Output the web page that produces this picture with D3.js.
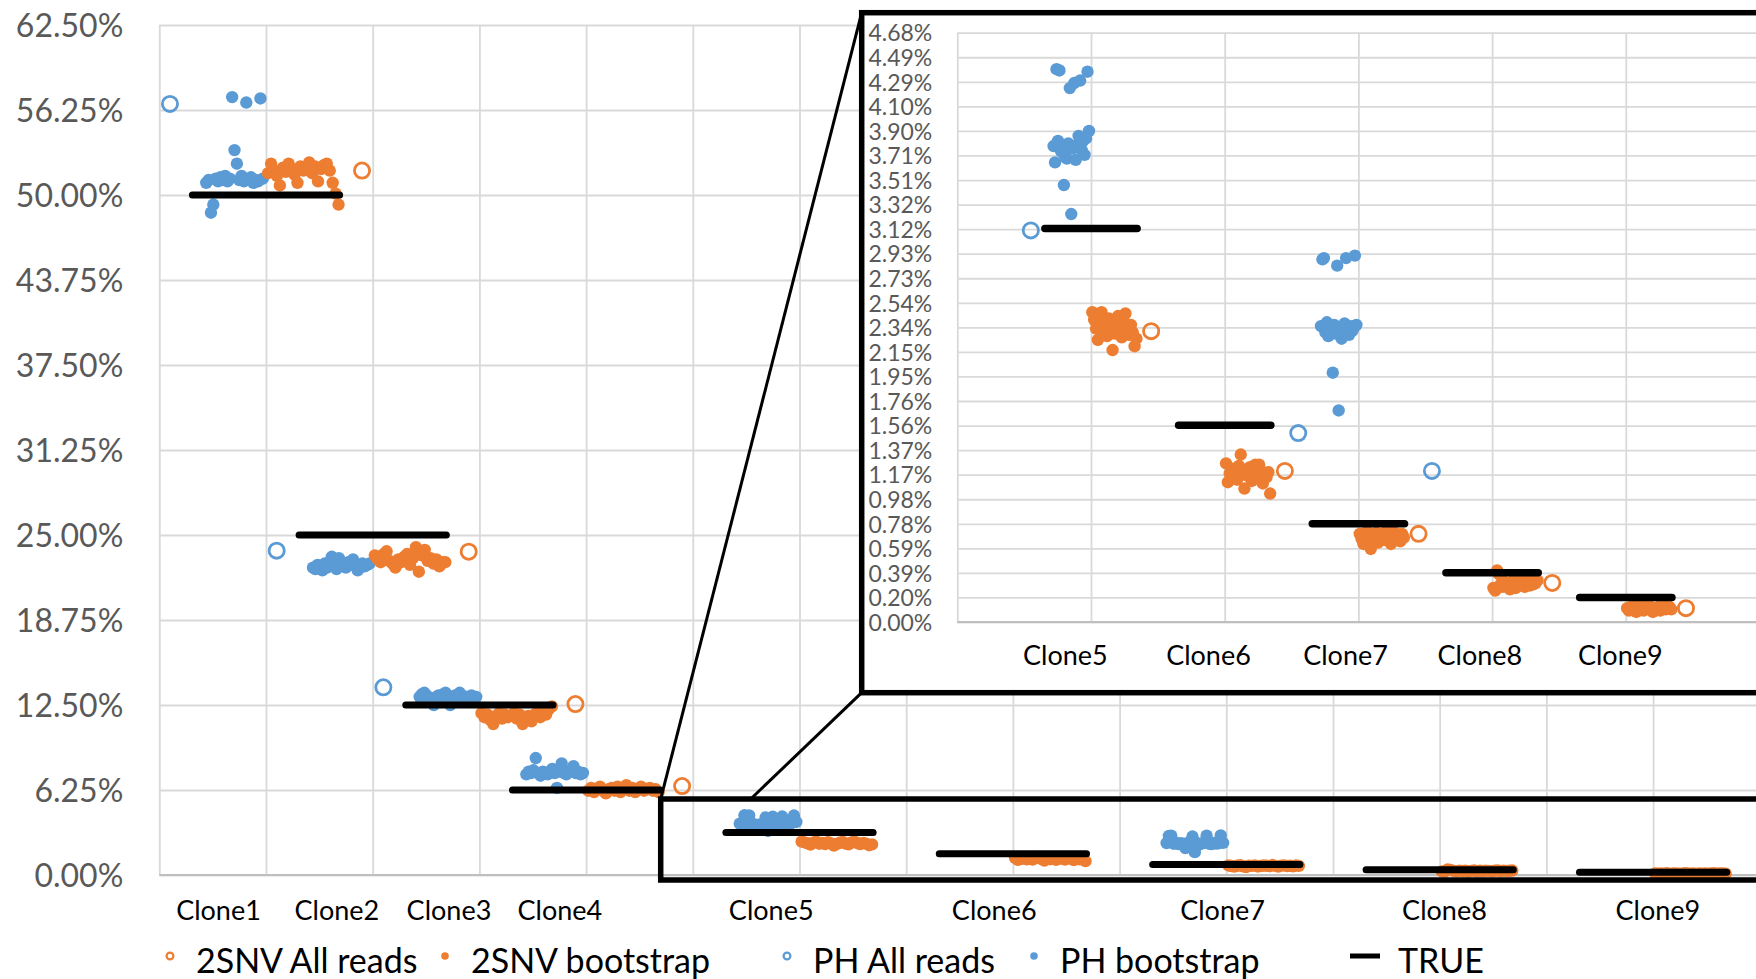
<!DOCTYPE html>
<html>
<head>
<meta charset="utf-8">
<script src="https://cdn.jsdelivr.net/npm/d3@7"></script>
<style>
  body { margin: 0; background: #fff; }
  text { font-family: Lato, "Open Sans", sans-serif; }
</style>
</head>
<body>
<div class="chart"></div>
<script>
// ---- data ----

var clones = ["Clone1", "Clone2", "Clone3", "Clone4", "Clone5", "Clone6", "Clone7", "Clone8", "Clone9"];
// position of each clone on the (numeric) x axis
var cloneX = [1, 2, 3, 4, 6, 8, 10, 12, 14];

// true clone frequencies
var trueFreq = [0.5, 0.25, 0.125, 0.0625, 0.03125, 0.015625, 0.0078125, 0.00390625, 0.001953125];

// estimates from all reads (%), null = not shown
var phAllReads = [56.7, 23.85, 13.8, null, 3.11, null, 1.50, 1.20, null];
var snvAllReads = [51.8, 23.77, 12.57, 6.54, 2.31, 1.20, 0.70, 0.31, 0.11];

// bootstrap estimates (%), listed left to right as they are spread out
var phBoot = [
  [50.9, 51.1, 48.7, 49.3, 51.2, 51.0, 51.3, 51.1, 51.4, 51.0, 51.2, 57.2, 53.3, 52.3, 51.1, 51.4, 51.0, 56.8, 51.2, 51.3, 50.9, 51.1, 51.0, 57.1, 51.2],
  [22.6, 22.5, 22.8, 22.7, 22.4, 22.9, 22.6, 23.0, 23.4, 22.8, 22.5, 23.3, 22.9, 22.7, 22.6, 23.0, 22.8, 23.2, 22.9, 22.4, 22.6, 22.9, 22.7, 22.8, 22.9],
  [13.1, 13.3, 13.4, 13.2, 13.0, 12.9, 12.5, 13.1, 13.2, 13.0, 13.3, 13.4, 13.1, 12.5, 13.0, 13.2, 13.1, 13.4, 13.2, 13.0, 13.1, 12.9, 13.2, 13.0, 13.1],
  [7.4, 7.6, 7.5, 7.7, 8.6, 7.5, 7.3, 7.6, 7.5, 7.4, 7.6, 7.8, 7.5, 6.4, 7.6, 8.2, 7.5, 7.4, 7.6, 7.7, 8.0, 7.5, 7.6, 7.4, 7.5],
  [3.78, 3.65, 4.39, 3.82, 4.38, 3.74, 3.73, 3.47, 3.69, 3.68, 3.80, 4.24, 3.24, 3.76, 4.28, 3.67, 3.79, 3.86, 4.30, 3.75, 3.82, 3.71, 3.84, 4.37, 3.90],
  [],
  [2.35, 2.88, 2.89, 2.30, 2.38, 2.27, 2.33, 2.31, 1.98, 2.36, 2.29, 2.83, 1.68, 2.34, 2.25, 2.32, 2.37, 2.89, 2.30, 2.28, 2.35, 2.31, 2.33, 2.91, 2.36],
  [],
  []
];
var snvBoot = [
  [51.6, 52.3, 51.8, 51.4, 50.7, 52.0, 51.7, 52.3, 51.9, 51.5, 50.9, 52.1, 51.8, 52.0, 52.4, 51.6, 52.1, 51.0, 51.9, 52.2, 52.3, 51.8, 50.9, 50.1, 49.3],
  [23.5, 23.2, 23.0, 23.6, 23.8, 23.1, 22.9, 22.6, 23.2, 23.0, 23.4, 23.6, 22.8, 23.3, 24.1, 22.3, 23.5, 23.9, 23.1, 23.3, 22.9, 23.2, 22.7, 23.0, 23.0],
  [11.9, 11.6, 11.8, 11.4, 11.1, 11.7, 11.9, 11.5, 11.8, 11.6, 11.7, 11.9, 11.5, 11.8, 11.1, 11.6, 11.7, 11.3, 11.8, 11.9, 11.6, 12.0, 11.8, 12.2, 12.4],
  [6.2, 6.4, 6.1, 6.3, 6.5, 6.2, 6.0, 6.3, 6.4, 6.2, 6.5, 6.1, 6.3, 6.6, 6.2, 6.4, 6.1, 6.3, 6.5, 6.2, 6.3, 6.4, 6.2, 6.3, 6.1],
  [2.46, 2.40, 2.33, 2.24, 2.38, 2.46, 2.30, 2.35, 2.27, 2.41, 2.32, 2.16, 2.29, 2.37, 2.43, 2.31, 2.26, 2.39, 2.45, 2.34, 2.28, 2.36, 2.30, 2.19, 2.25],
  [1.26, 1.11, 1.18, 1.22, 1.15, 1.20, 1.13, 1.24, 1.33, 1.17, 1.06, 1.21, 1.16, 1.23, 1.12, 1.19, 1.25, 1.14, 1.25, 1.20, 1.10, 1.18, 1.15, 1.19, 1.02],
  [0.70, 0.66, 0.62, 0.68, 0.72, 0.64, 0.58, 0.69, 0.67, 0.71, 0.63, 0.66, 0.70, 0.68, 0.65, 0.73, 0.67, 0.62, 0.69, 0.71, 0.66, 0.68, 0.64, 0.70, 0.67],
  [0.27, 0.25, 0.41, 0.38, 0.30, 0.28, 0.32, 0.29, 0.31, 0.26, 0.30, 0.33, 0.27, 0.31, 0.29, 0.32, 0.30, 0.28, 0.31, 0.33, 0.29, 0.32, 0.30, 0.31, 0.33],
  [0.11, 0.09, 0.12, 0.10, 0.13, 0.08, 0.11, 0.12, 0.10, 0.09, 0.13, 0.11, 0.10, 0.12, 0.08, 0.11, 0.10, 0.12, 0.09, 0.11, 0.13, 0.10, 0.11, 0.12, 0.10]
];

// axis ticks
var mainYTicks = [0, 0.0625, 0.125, 0.1875, 0.25, 0.3125, 0.375, 0.4375, 0.5, 0.5625, 0.625];
var mainLabelTicks = [0.55, 1.66, 2.71, 3.75, 5.73, 7.82, 9.96, 12.04, 14.04];
var insetLabelTicks = [5.61, 7.75, 9.8, 11.81, 13.91];
var insetYLabels = ["0.00%", "0.20%", "0.39%", "0.59%", "0.78%", "0.98%", "1.17%", "1.37%", "1.56%", "1.76%",
  "1.95%", "2.15%", "2.34%", "2.54%", "2.73%", "2.93%", "3.12%", "3.32%", "3.51%", "3.71%",
  "3.90%", "4.10%", "4.29%", "4.49%", "4.68%"];

var legendLabels = ["2SNV All reads", "2SNV bootstrap", "PH All reads", "PH bootstrap", "TRUE"];

// ---- setup ----

var svgWidth = 1756;
var svgHeight = 979;

var blue = "#5B9BD5";
var orange = "#ED7D31";
var gridColor = "#D9D9D9";
var axisColor = "#BFBFBF";

var svg = d3.select(".chart")
  .append("svg")
  .attr("width", svgWidth)
  .attr("height", svgHeight);

// spread a clone's bootstrap values over a small x band next to the clone
function bootPoints(sets, lo, hi, keep) {
  var pts = [];
  sets.forEach(function(vals, c) {
    if (!keep(c)) return;
    vals.forEach(function(v, i) {
      pts.push({ x: cloneX[c] + lo + (hi - lo) * i / (vals.length - 1), v: v / 100 });
    });
  });
  return pts;
}

function allReadPoints(vals, dx, keep) {
  var pts = [];
  vals.forEach(function(v, c) {
    if (v !== null && keep(c)) pts.push({ x: cloneX[c] + dx, v: v / 100 });
  });
  return pts;
}

// draws the gridlines and the clone markers into a group
function drawPanel(g, x, y, opts) {
  var w = x.range()[1];
  var h = y.range()[0];

  // vertical gridlines
  var vGrid = g.append("g")
    .attr("transform", `translate(0, ${h})`)
    .call(d3.axisBottom(x).tickValues(opts.xGrid).tickSize(-h).tickFormat(""));
  vGrid.select(".domain").remove();
  vGrid.selectAll("line").attr("stroke", gridColor).attr("stroke-width", 1.8);

  // y axis with horizontal gridlines
  var yAxis = g.append("g")
    .call(d3.axisLeft(y).tickValues(opts.yTicks).tickFormat(opts.yFormat)
      .tickSize(-w).tickSizeOuter(0).tickPadding(opts.yPadding));
  yAxis.select(".domain").remove();
  yAxis.selectAll("line").attr("stroke", gridColor).attr("stroke-width", 1.8);
  yAxis.selectAll("text")
    .attr("fill", "#595959")
    .attr("dy", "0.36em")
    .style("font-size", opts.yFont + "px");

  // bottom axis line
  g.append("line")
    .attr("x1", 0).attr("x2", w)
    .attr("y1", h).attr("y2", h)
    .attr("stroke", axisColor)
    .attr("stroke-width", 2);

  // clone names
  var xLabels = g.append("g")
    .attr("transform", `translate(0, ${h})`)
    .call(d3.axisBottom(x).tickValues(opts.labelTicks)
      .tickFormat(function(d, i) { return clones[i + opts.firstClone]; })
      .tickSize(0).tickPadding(opts.labelPadding));
  xLabels.select(".domain").remove();
  xLabels.selectAll("text").attr("fill", "#000").style("font-size", "27px");

  // PH bootstrap
  g.append("g").selectAll("circle")
    .data(bootPoints(phBoot, -0.56, -0.03, opts.keep))
    .enter()
    .append("circle")
    .attr("cx", d => x(d.x))
    .attr("cy", d => y(d.v))
    .attr("r", 6.2)
    .attr("fill", blue);

  // 2SNV bootstrap
  g.append("g").selectAll("circle")
    .data(bootPoints(snvBoot, 0.02, 0.68, opts.keep))
    .enter()
    .append("circle")
    .attr("cx", d => x(d.x))
    .attr("cy", d => y(d.v))
    .attr("r", 6.2)
    .attr("fill", orange);

  // all-reads estimates (open circles)
  g.append("g").selectAll("circle")
    .data(allReadPoints(phAllReads, -0.9, opts.keepAll))
    .enter()
    .append("circle")
    .attr("cx", d => x(d.x))
    .attr("cy", d => y(d.v))
    .attr("r", 7.6)
    .attr("fill", "none")
    .attr("stroke", blue)
    .attr("stroke-width", 2.8);

  g.append("g").selectAll("circle")
    .data(allReadPoints(snvAllReads, 0.9, opts.keepAll))
    .enter()
    .append("circle")
    .attr("cx", d => x(d.x))
    .attr("cy", d => y(d.v))
    .attr("r", 7.6)
    .attr("fill", "none")
    .attr("stroke", orange)
    .attr("stroke-width", 2.8);

  // TRUE frequency bars
  g.append("g").selectAll("line")
    .data(trueFreq.map((v, c) => ({ c: c, v: v })).filter(d => opts.keep(d.c)))
    .enter()
    .append("line")
    .attr("x1", d => x(cloneX[d.c] - 0.69))
    .attr("x2", d => x(cloneX[d.c] + 0.69))
    .attr("y1", d => y(d.v))
    .attr("y2", d => y(d.v))
    .attr("stroke", "#000")
    .attr("stroke-width", opts.trueWidth)
    .attr("stroke-linecap", "round");
}

// ---- main chart ----

var main = { left: 159.3, top: 25, width: 1600.5, height: 850 };

var xMain = d3.scaleLinear().domain([0, 15]).range([0, main.width]);
var yMain = d3.scaleLinear().domain([0, 0.625]).range([main.height, 0]);

var mainGroup = svg.append("g")
  .attr("transform", `translate(${main.left}, ${main.top})`);

drawPanel(mainGroup, xMain, yMain, {
  xGrid: d3.range(0, 16),
  yTicks: mainYTicks,
  yFormat: d3.format(".2%"),
  yPadding: 36,
  yFont: 32,
  labelTicks: mainLabelTicks,
  labelPadding: 26,
  firstClone: 0,
  keep: c => true,
  keepAll: c => c < 4,   // main chart shows all-reads markers for Clone1-4 only
  trueWidth: 7
});

// ---- zoom box and connectors ----

svg.append("rect")
  .attr("x", 660.7)
  .attr("y", 799)
  .attr("width", 1200)
  .attr("height", 81)
  .attr("fill", "none")
  .attr("stroke", "#000")
  .attr("stroke-width", 5.5);

svg.append("line")
  .attr("x1", 660.7).attr("y1", 799)
  .attr("x2", 861.7).attr("y2", 12.7)
  .attr("stroke", "#000").attr("stroke-width", 3);

svg.append("line")
  .attr("x1", 750.7).attr("y1", 799)
  .attr("x2", 861.7).attr("y2", 692.7)
  .attr("stroke", "#000").attr("stroke-width", 3);

// ---- inset chart (Clone5 - Clone9) ----

svg.append("rect")
  .attr("x", 861.7)
  .attr("y", 12.7)
  .attr("width", 1000)
  .attr("height", 680)
  .attr("fill", "#fff")
  .attr("stroke", "#000")
  .attr("stroke-width", 5.5);

var inset = { left: 957.3, top: 32.7, width: 802.2, height: 589.3 };

var xInset = d3.scaleLinear().domain([4, 16]).range([0, inset.width]);
var yInset = d3.scaleLinear().domain([0, 0.0468]).range([inset.height, 0]);

var insetGroup = svg.append("g")
  .attr("transform", `translate(${inset.left}, ${inset.top})`);

drawPanel(insetGroup, xInset, yInset, {
  xGrid: d3.range(4, 17, 2),
  yTicks: d3.range(25).map(i => i * 0.00195),
  yFormat: (d, i) => insetYLabels[i],
  yPadding: 25,
  yFont: 23,
  labelTicks: insetLabelTicks,
  labelPadding: 24,
  firstClone: 4,
  keep: c => c >= 4,
  keepAll: c => c >= 4,
  trueWidth: 7.5
});

// ---- legend ----

var legendX = [170, 445, 787, 1034, 1350];
var legendY = 956;

var legend = svg.append("g");

legendLabels.forEach(function(label, i) {
  var color = i < 2 ? orange : blue;
  var item = legend.append("g").attr("transform", `translate(${legendX[i]}, ${legendY})`);
  var textX = 26;

  if (i === 4) {
    item.append("line")
      .attr("x1", 0).attr("x2", 30)
      .attr("stroke", "#000").attr("stroke-width", 5);
    textX = 48;
  }
  else if (i % 2 === 0) {
    item.append("circle")
      .attr("r", 3.4)
      .attr("fill", "none")
      .attr("stroke", color)
      .attr("stroke-width", 2.2);
  }
  else {
    item.append("circle")
      .attr("r", 3.8)
      .attr("fill", color);
  }

  item.append("text")
    .attr("x", textX)
    .attr("y", 17)
    .attr("fill", "#000")
    .style("font-size", "34px")
    .text(label);
});
</script>
</body>
</html>
